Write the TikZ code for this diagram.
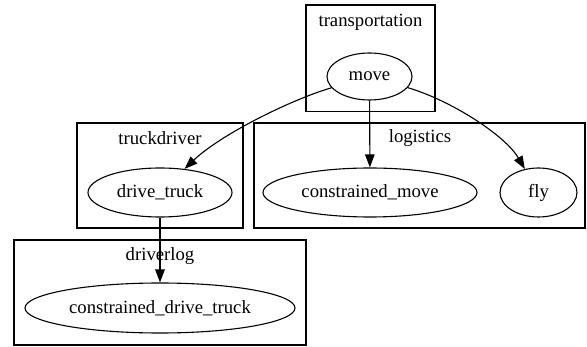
\documentclass[tikz,border=0pt]{standalone}
\usepackage{fontspec}
\setmainfont{Liberation Serif}
\usetikzlibrary{shapes.geometric,arrows.meta}
\begin{document}
\begin{tikzpicture}[x=1pt,y=-1pt,
  every node/.style={font=\fontsize{18.7}{22}\selectfont},
  cluster/.style={draw=black,line width=1.1pt},
  clabel/.style={anchor=base,inner sep=0},
  gnode/.style={draw=black,ellipse,line width=1.1pt,inner sep=0},
  arr/.style={draw=black,line width=1.1pt,-{Triangle[length=13pt,width=9.5pt]}}]
\useasboundingbox (0,0) rectangle (587,347);
% clusters
\draw[cluster] (306,5) rectangle (435,111.5);
\draw[cluster] (77,123) rectangle (243,228);
\draw[cluster] (254,123) rectangle (585,228);
\draw[cluster] (14,240) rectangle (306,345);
\node[clabel] (ltrans) at (370.5,27) {transportation};
\node[clabel] (ltruck) at (160,145) {truckdriver};
\node[clabel] (llog) at (420,143) {logistics};
\node[clabel] (ldrv) at (160,261) {driverlog};
% nodes
\node[gnode,minimum width=85,minimum height=47] (move) at (369.5,76.5) {move};
\node[gnode,minimum width=144,minimum height=49] (drive) at (160,192.5) {drive\_truck};
\node[gnode,minimum width=214,minimum height=49] (cmove) at (370,192.5) {constrained\_move};
\node[gnode,minimum width=77,minimum height=49] (fly) at (538.5,192.5) {fly};
\node[gnode,minimum width=270,minimum height=50] (cdt) at (160,308) {constrained\_drive\_truck};
% edges
\draw[arr] (move) .. controls (290,100) and (220,135) .. (drive);
\draw[arr] (move) -- (cmove);
\draw[arr] (move) .. controls (450,100) and (505,135) .. (fly);
\draw[arr] (drive) -- (cdt);
\end{tikzpicture}
\end{document}
